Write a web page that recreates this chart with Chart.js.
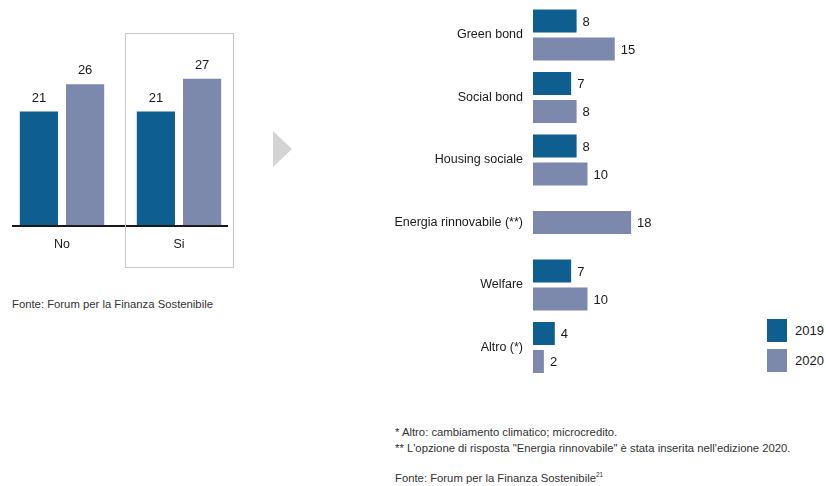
<!DOCTYPE html>
<html>
<head>
<meta charset="utf-8">
<script src="https://cdn.jsdelivr.net/npm/chart.js@4.4.1/dist/chart.umd.min.js"></script>
<style>
  body { margin: 0; background: #fff; width: 826px; height: 486px; position: relative; overflow: hidden;
         font-family: "Liberation Sans", Arial, sans-serif; color: #1a1a1a; }
  .box { position: absolute; }
  .arrow { position: absolute; left: 273px; top: 131px; width: 0; height: 0;
           border-left: 19px solid #d4d4d4; border-top: 18.5px solid transparent; border-bottom: 18.5px solid transparent; }
  .note { position: absolute; font-size: 11.3px; color: #333; white-space: nowrap; }
  .leg { position: absolute; left: 767px; font-size: 13px; }
  .leg span { position: absolute; width: 20px; height: 23px; left: 0; top: 0; }
  .leg b { position: absolute; left: 28px; top: 4px; font-weight: normal; }
</style>
</head>
<body>
<div class="box" style="left:0;top:0;width:250px;height:270px"><canvas id="left"></canvas></div>
<div class="arrow"></div>
<div class="box" style="left:383px;top:0;width:317px;height:382px"><canvas id="right"></canvas></div>

<div class="leg" style="top:319px"><span style="background:#0f5e90"></span><b>2019</b></div>
<div class="leg" style="top:349px"><span style="background:#7d88ad"></span><b>2020</b></div>

<div class="note" style="left:12px;top:298px">Fonte: Forum per la Finanza Sostenibile</div>
<div class="note" style="left:395px;top:426px">* Altro: cambiamento climatico; microcredito.</div>
<div class="note" style="left:395px;top:442px">** L'opzione di risposta "Energia rinnovabile" è stata inserita nell'edizione 2020.</div>
<div class="note" style="left:395px;top:471px">Fonte: Forum per la Finanza Sostenibile<sup style="font-size:6.5px">21</sup></div>

<script>
const seriesNames = ["2019", "2020"];
const colors = ["#0f5e90", "#7d88ad"];

// left chart: yes / no
const leftCats = ["No", "Si"];
const left2019 = [21, 21];
const left2020 = [26, 27];

// right chart: categories
const rightCats = ["Green bond", "Social bond", "Housing sociale", "Energia rinnovabile (**)", "Welfare", "Altro (*)"];
const right2019 = [8, 7, 8, null, 7, 4];
const right2020 = [15, 8, 10, 18, 10, 2];

const FONT = "Liberation Sans, Arial, sans-serif";

const valueLabels = {
  id: "valueLabels",
  afterDatasetsDraw(chart) {
    const ctx = chart.ctx;
    const horiz = chart.options.indexAxis === "y";
    ctx.save();
    ctx.fillStyle = "#1a1a1a";
    ctx.font = "13px " + FONT;
    chart.data.datasets.forEach((ds, i) => {
      chart.getDatasetMeta(i).data.forEach((bar, j) => {
        const v = ds.data[j];
        if (v == null) return;
        if (horiz) {
          ctx.textAlign = "left";
          ctx.textBaseline = "middle";
          ctx.fillText(v, bar.x + 6, bar.y + 1);
        } else {
          ctx.textAlign = "center";
          ctx.textBaseline = "bottom";
          ctx.fillText(v, bar.x, bar.y - 7);
        }
      });
    });
    ctx.restore();
  },
};

// base line and frame around the "Si" group
const leftDeco = {
  id: "leftDeco",
  afterDraw(chart) {
    const ctx = chart.ctx;
    const x = chart.scales.x, y = chart.scales.y;
    const y0 = y.getPixelForValue(0);
    ctx.save();
    ctx.strokeStyle = "#1a1a1a";
    ctx.lineWidth = 2;
    ctx.beginPath();
    ctx.moveTo(x.getPixelForValue(0) - 50, y0);
    ctx.lineTo(x.getPixelForValue(1) + 49, y0);
    ctx.stroke();
    ctx.strokeStyle = "#c9c9c9";
    ctx.lineWidth = 1;
    const cx = x.getPixelForValue(1);
    ctx.strokeRect(Math.round(cx - 54) + 0.5, 33.5, 108, 234);
    ctx.restore();
  },
};

new Chart(document.getElementById("left"), {
  type: "bar",
  data: {
    labels: leftCats,
    datasets: [
      { label: seriesNames[0], data: left2019, backgroundColor: colors[0] },
      { label: seriesNames[1], data: left2020, backgroundColor: colors[1] },
    ],
  },
  options: {
    responsive: true,
    maintainAspectRatio: false,
    animation: false,
    categoryPercentage: 0.79,
    barPercentage: 0.826,
    layout: { padding: { top: 8, left: 3.5, right: 12.5, bottom: 7 } },
    plugins: { legend: { display: false }, tooltip: { enabled: false } },
    scales: {
      x: {
        grid: { display: false, drawTicks: false },
        border: { display: false },
        ticks: { color: "#1a1a1a", font: { size: 12.5, family: FONT }, padding: 11 },
        afterFit: (s) => { s.paddingLeft = 0; s.paddingRight = 0; },
      },
      y: { display: false, min: 0, max: 40 },
    },
  },
  plugins: [valueLabels, leftDeco],
});

new Chart(document.getElementById("right"), {
  type: "bar",
  data: {
    labels: rightCats,
    datasets: [
      { label: seriesNames[0], data: right2019, backgroundColor: colors[0] },
      { label: seriesNames[1], data: right2020, backgroundColor: colors[1] },
    ],
  },
  options: {
    indexAxis: "y",
    responsive: true,
    maintainAspectRatio: false,
    animation: false,
    skipNull: true,
    maxBarThickness: 23,
    categoryPercentage: 0.896,
    barPercentage: 0.821,
    layout: { padding: { top: 3.75, bottom: 3.25, right: 58 } },
    plugins: { legend: { display: false }, tooltip: { enabled: false } },
    scales: {
      x: { display: false, min: 0, max: 20 },
      y: {
        grid: { display: false, drawTicks: false },
        border: { display: false },
        ticks: { color: "#1a1a1a", font: { size: 12.5, family: FONT }, padding: 10 },
        afterFit: (s) => { s.width = 150; s.paddingTop = 0; s.paddingBottom = 0; },
      },
    },
  },
  plugins: [valueLabels],
});
</script>
</body>
</html>
